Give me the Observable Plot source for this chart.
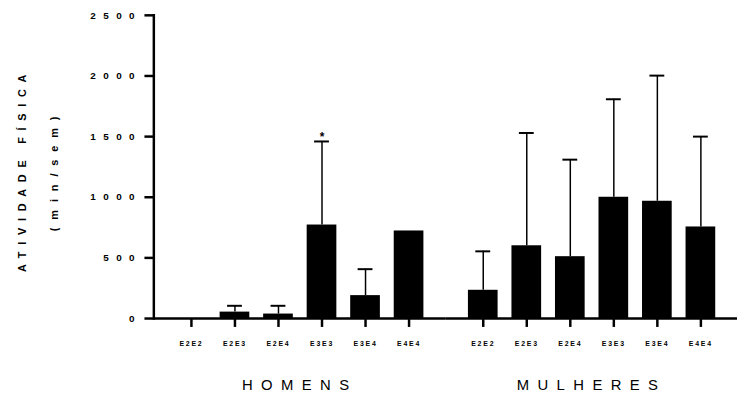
<!DOCTYPE html>
<html><head><meta charset="utf-8">
<script src="https://cdn.jsdelivr.net/npm/d3@7"></script>
<script src="https://cdn.jsdelivr.net/npm/@observablehq/plot@0.6"></script>
<style>
html,body{margin:0;padding:0;background:#fff;overflow:hidden;}
#chart svg{display:block;}
g[aria-label="y-axis tick label"] text{letter-spacing:7.5px;}
g[aria-label="x-axis tick label"] text{letter-spacing:1.8px;}
g[aria-label="fx-axis tick label"] text{letter-spacing:8.5px;}
</style></head><body><div id="chart"></div><script>
const genotypes = ["E2E2", "E2E3", "E2E4", "E3E3", "E3E4", "E4E4"];
const groups = ["HOMENS", "MULHERES"];
const homensMean = [0, 53, 37, 771, 189, 722];
const homensSD = [null, 52, 68, 689, 218, null];
const homensSig = ["", "", "", "*", "", ""];
const mulheresMean = [233, 600, 510, 1000, 967, 755];
const mulheresSD = [321, 930, 800, 808, 1036, 745];
const mulheresSig = ["", "", "", "", "", ""];
const yTicks = [0, 500, 1000, 1500, 2000, 2500];
const yTitle = "ATIVIDADE FÍSICA";
const ySubtitle = "(min/sem)";

const rows = [];
groups.forEach((g, gi) => {
  const m = gi ? mulheresMean : homensMean;
  const s = gi ? mulheresSD : homensSD;
  const sg = gi ? mulheresSig : homensSig;
  genotypes.forEach((gt, i) => rows.push({group: g, genotype: gt, mean: m[i], sd: s[i], sig: sg[i]}));
});
const errRows = rows.filter(d => d.sd != null);
const sigRows = rows.filter(d => d.sig);

const chart = Plot.plot({
  width: 745, height: 399,
  marginLeft: 154, marginRight: 0, marginTop: 15, marginBottom: 77.5,
  style: {fontFamily: '"Liberation Sans", Arial, sans-serif', background: "#fff", color: "#000"},
  fx: {domain: groups, padding: 0},
  x: {type: "band", domain: genotypes, paddingInner: 0.326, paddingOuter: 0.47},
  y: {domain: [0, 2500]},
  marks: [
    Plot.barY(rows, {fx: "group", x: "genotype", y: "mean", fill: "#000"}),
    Plot.ruleX(errRows, {fx: "group", x: "genotype", y1: "mean", y2: d => d.mean + d.sd, stroke: "#000", strokeWidth: 1.5}),
    Plot.tickY(errRows, {fx: "group", x: "genotype", y: d => d.mean + d.sd, stroke: "#000", strokeWidth: 2, insetLeft: 7.5, insetRight: 7.5}),
    Plot.text(sigRows, {fx: "group", x: "genotype", y: d => d.mean + d.sd, text: "sig", dy: -4, fontSize: 12, fontWeight: "bold", fill: "#000"}),
    Plot.ruleY([0], {stroke: "#000", strokeWidth: 2.5}),
    Plot.frame({anchor: "left", fx: () => groups[0], stroke: "#000", strokeWidth: 2.5}),
    Plot.axisY({ticks: yTicks, tickFormat: "d", tickSize: 9, tickPadding: 3, strokeWidth: 2.5, fontSize: 10, fontWeight: "bold", label: null}),
    Plot.axisX({tickSize: 9, tickPadding: 14, strokeWidth: 2.5, fontSize: 7, fontWeight: "bold", label: null}),
    Plot.axisFx({anchor: "bottom", tickSize: 0, tickPadding: 62, fontSize: 15, label: null}),
    Plot.text([yTitle], {fx: () => groups[0], text: d => d, frameAnchor: "left", textAnchor: "middle", dx: -133, dy: 3, rotate: -90, fontSize: 11, fontWeight: "bold", fill: "#000"}),
    Plot.text([ySubtitle], {fx: () => groups[0], text: d => d, frameAnchor: "left", textAnchor: "middle", dx: -100, dy: 3, rotate: -90, fontSize: 11, fontWeight: "bold", fill: "#000"})
  ]
});
d3.select(chart).selectAll("text").each(function () {
  const t = this.textContent;
  if (t === yTitle) d3.select(this).style("letter-spacing", "6.8px");
  if (t === ySubtitle) d3.select(this).style("letter-spacing", "8px");
});
document.getElementById("chart").appendChild(chart);
</script></body></html>
